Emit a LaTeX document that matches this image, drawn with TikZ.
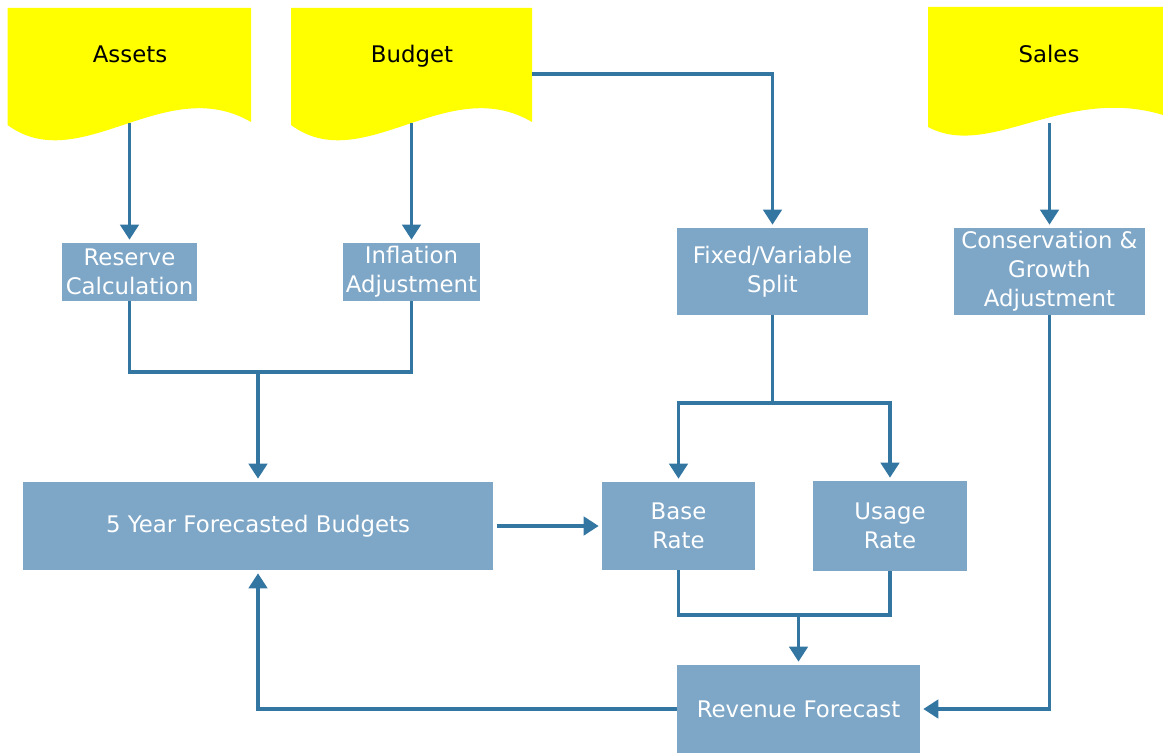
\documentclass[tikz,border=0pt]{standalone}
\usepackage{fontspec}
\newfontfamily\dv{DejaVu Sans}
\usetikzlibrary{arrows.meta}
\definecolor{docyellow}{RGB}{255,255,0}
\definecolor{boxblue}{RGB}{125,166,199}
\definecolor{linkblue}{RGB}{52,118,162}
\begin{document}
\begin{tikzpicture}[x=0.02cm,y=-0.02cm,
  doc/.style={fill=docyellow,draw=none},
  doctext/.style={font=\dv\fontsize{13}{16}\selectfont,text=black,inner sep=0pt,anchor=base},
  box/.style={fill=boxblue,draw=none,text=white,align=center,inner sep=0pt,font=\dv\fontsize{13}{16.5}\selectfont},
  ln/.style={draw=linkblue,line width=1.8pt},
  arr/.style={ln,-{Triangle[length=0.3cm,width=0.37cm]},shorten >=0.06cm},
]
\useasboundingbox (0,0) rectangle (1163,753);

% documents
\path[doc] (7.5,8) -- (251,8) -- (251,122) .. controls (165,72) and (80,178) .. (7.5,125) -- cycle;
\path[doc] (291,8) -- (532,8) -- (532,122) .. controls (447,72) and (363,178) .. (291,125) -- cycle;
\path[doc] (928,7) -- (1163,7) -- (1163,115) .. controls (1065,85) and (990,160) .. (928,127) -- cycle;

\node[doctext] (assets) at (130,63) {Assets};
\node[doctext] (budget) at (412,63) {Budget};
\node[doctext] (sales) at (1049,63) {Sales};

\coordinate (assetsB) at (129.5,123);
\coordinate (budgetB) at (411.5,123);
\coordinate (budgetR) at (532,74);
\coordinate (salesB) at (1049.5,123);

% process boxes
\node[box,minimum width=2.72cm,minimum height=1.16cm] (res) at (129.5,272) {Reserve\\Calculation};
\node[box,minimum width=2.74cm,minimum height=1.16cm] (inf) at (411.5,272) {Inflation\\Adjustment};
\node[box,minimum width=3.82cm,minimum height=1.74cm] (fix) at (772.5,271.5) {Fixed/Variable\\Split};
\node[box,minimum width=3.82cm,minimum height=1.74cm] (con) at (1049.5,271.5) {Conservation \&\\Growth\\Adjustment};
\node[box,minimum width=9.4cm,minimum height=1.76cm] (fyb) at (258,526) {5 Year Forecasted Budgets};
\node[box,minimum width=3.06cm,minimum height=1.76cm] (base) at (678.5,526) {Base\\Rate};
\node[box,minimum width=3.08cm,minimum height=1.8cm] (use) at (890,526) {Usage\\Rate};
\node[box,minimum width=4.86cm,minimum height=1.76cm] (rev) at (798.5,709) {Revenue Forecast};

\coordinate (j1) at (258,372);
\coordinate (j2) at (772.5,403);
\coordinate (j3) at (798.5,615);

% connectors
\draw[arr] (assetsB) -- (res.north);
\draw[arr] (budgetB) -- (inf.north);
\draw[arr] (budgetR) -| (fix.north);
\draw[arr] (salesB) -- (con.north);

\draw[ln] (res.south) |- (j1) -| (inf.south);
\draw[arr] (j1) -- (fyb.north);

\draw[ln] (fix.south) -- (j2);
\draw[arr] (j2) -| (base.north);
\draw[arr] (j2) -| (use.north);

\draw[ln] (base.south) |- (j3) -| (use.south);
\draw[arr] (j3) -- (rev.north);

\draw[arr,shorten <=0.08cm] (fyb.east) -- (base.west);
\draw[arr] (rev.west) -| (fyb.south);
\draw[arr] (con.south) |- (rev.east);
\end{tikzpicture}
\end{document}
